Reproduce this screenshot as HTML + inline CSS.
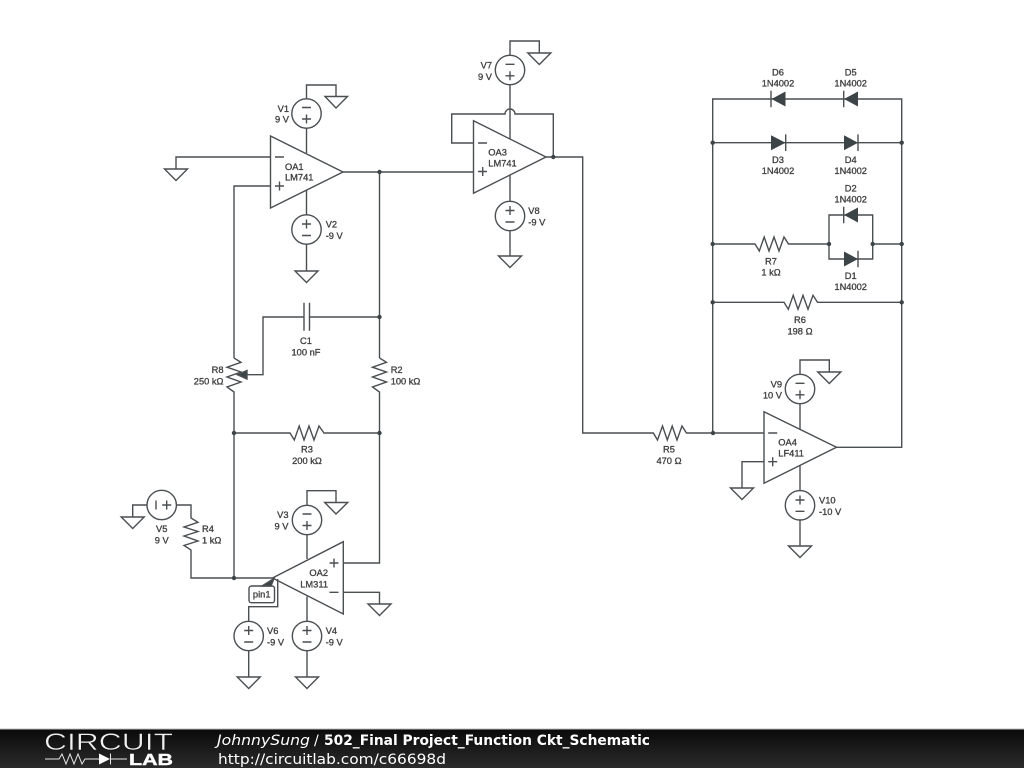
<!DOCTYPE html>
<html><head><meta charset="utf-8"><style>
html,body{margin:0;padding:0;background:#fff;width:1024px;height:768px;overflow:hidden}
svg{display:block}
.w{fill:none;stroke:#4a4f52;stroke-width:1.4}
.t text{font-family:"Liberation Sans",sans-serif;font-size:9.3px;fill:#404040;stroke:#404040;stroke-width:.32}
.m{text-anchor:middle}.e{text-anchor:end}
.f text{font-family:"DejaVu Sans",sans-serif;font-size:14px;fill:#fff}
</style></head><body>
<svg width="1024" height="768" viewBox="0 0 1024 768" xmlns="http://www.w3.org/2000/svg">
<defs><linearGradient id="g" x1="0" y1="0" x2="0" y2="1"><stop offset="0" stop-color="#0a0a0a"/><stop offset="1" stop-color="#2b2b2b"/></linearGradient></defs>
<rect width="1024" height="768" fill="#fff"/>
<g class="w">
<!-- OA1 -->
<path d="M270.5 136V208L343 172Z"/>
<path d="M275 157h9M275 186h9M279.500 181.500v9"/>
<circle cx="306.500" cy="113.500" r="14.700"/><path d="M302 107.500h9M302 119h9M306.500 114.500v9"/>
<circle cx="306.500" cy="229.500" r="14.700"/><path d="M302 224h9M306.500 219.500v9M302 235.500h9"/>
<path d="M306.500 99V85H336V96.500M325 96.500h22.500L336 108ZM306.500 128.200V153M306.500 190.500V214.800M306.500 244.200V271M295 271h23L306.500 282.500ZM270.500 157H176V169M164.500 169h23L176 180.500ZM270.500 186H234V358"/>
<path d="M343 172H474M379.500 172V358"/>
<!-- R8 R2 C1 R3 -->
<path d="M234 358L241 362.300L227 367.200L241 372L227 377L241 382L227 387L234 392V578"/>
<path d="M379.500 358L386.500 362.300L372.500 367.200L386.500 372L372.500 377L386.500 382L372.500 387L379.500 392V563H343.300"/>
<path d="M379.500 317H309.500M304 317H263V374.700H246M304 302.700V330.700M309.500 302.700V330.700"/>
<path d="M234 433H290L294.300 440L299.200 426L304 440L309 426L314 440L319 426L324 433H379.500"/>
<path d="M237.500 374.700L247 370.500V379Z" fill="#3c4448"/>
<!-- OA2 -->
<path d="M272.500 578L343.300 541.700V614Z"/>
<path d="M329.500 563h9M334 558.500v9M329.500 592.300h9"/>
<circle cx="307" cy="520" r="14.700"/><path d="M302.500 514h9M302.500 525.500h9M307 521v9"/>
<circle cx="307" cy="636" r="14.700"/><path d="M302.500 630.500h9M307 626v9M302.500 642h9"/>
<circle cx="248.700" cy="636" r="14.700"/><path d="M244.200 630.500h9M248.700 626v9M244.200 642h9"/>
<circle cx="161.700" cy="505" r="14.700"/><path d="M156 500.500v9M162.200 505h9M166.700 500.500v9"/>
<path d="M307 505.300V490.700H336V502.500M324.700 502.500h23L336 514ZM307 534.700V559M307 596.500V621.300M307 650.700V677M295.500 677h23L307 688.500Z"/>
<path d="M343.300 592.300H379.500V604M368 604h23L379.500 615.500Z"/>
<path d="M248.700 621.300V606.700H277.700V579M248.700 650.700V677M237.200 677h23L248.700 688.500Z"/>
<path d="M147 505H132.700V517M121.200 517h23L132.700 528.500ZM176.400 505H191V518L198 522.300L184 527L198 531.500L184 536L198 541L184 545.500L191 550V578H272.500"/>
<rect x="249" y="586" width="25.500" height="16.700" rx="2.500"/>
<path d="M262 586L274 578.500L271 586Z" fill="#3c4448"/>
<!-- OA3 -->
<path d="M473.500 120.700V193.300L546 157Z"/>
<path d="M478 143h9M478 171.500h9M482.700 167v9"/>
<circle cx="510" cy="70" r="14.700"/><path d="M505.500 64.300h9M505.500 75.800h9M510 71.300v9"/>
<circle cx="510" cy="216" r="14.700"/><path d="M505.500 210.500h9M510 206v9M505.500 222h9"/>
<path d="M510 55.300V41H539.300V53M527.800 53h23L539.300 64.500ZM510 84.700V139M510 175V201.300M510 230.700V256M498.500 256h23L510 267.500Z"/>
<path d="M473.500 143H451.700V114H505A5 5 0 0 1 515 114H553.300V157M546 157H582.700V433H653.300L657.500 440L662.500 426L667.300 440L672.200 426L677 440L682 426L686.500 433H764"/>
<!-- OA4 -->
<path d="M764 411.700V483.300L836.500 447.300Z"/>
<path d="M768.200 433h9M768.200 461.700h9M772.700 457.200v9"/>
<circle cx="800" cy="389" r="14.700"/><path d="M795.500 383.300h9M795.500 394.800h9M800 390.300v9"/>
<circle cx="800" cy="505.300" r="14.700"/><path d="M795.500 500h9M800 495.500v9M795.500 511.300h9"/>
<path d="M800 374.300V360H829.300V372M817.800 372h23L829.300 383.500ZM800 403.700V429M800 465.500V490.600M800 520V546M788.500 546h23L800 557.500ZM764 461.700H742V488M730.500 488h23L742 499.500ZM836.500 447.300H901.700V99H712.700V433"/>
<!-- diode branches -->
<path d="M712.700 142.700H901.700M771 90.700V107.300M843.700 90.700V107.300M785.700 134.400V151M858 134.400V151"/>
<path d="M712.700 244H755L759.300 251L764.200 237L769 251L774 237L779 251L784 237L788.500 244H829M829 215V259H872.700V215ZM872.700 244H901.700"/>
<path d="M843.700 206.700V223.300M858 250.700V267.300"/>
<path d="M712.700 302.300H784L788.300 309.300L793.200 295.300L798 309.300L803 295.300L808 309.300L813 295.300L817.500 302.300H901.700"/>
</g>
<g fill="#3c4448" stroke="none">
<path d="M771.500 99L785.500 91.500V106.500ZM844 99L858 91.500V106.500ZM771 135.200L785.500 142.700L771 150.200ZM844 135.200L858 142.700L844 150.200ZM844 215L858 207.500V222.500ZM844 251.500L858 259L844 266.500Z"/>
<circle cx="379.500" cy="172" r="2.200"/><circle cx="379.500" cy="317" r="2.200"/><circle cx="379.500" cy="433" r="2.200"/><circle cx="234" cy="433" r="2.200"/><circle cx="234" cy="578" r="2.200"/><circle cx="553.300" cy="157" r="2.200"/><circle cx="713" cy="433" r="2.200"/><circle cx="712.700" cy="142.700" r="2.200"/><circle cx="901.700" cy="142.700" r="2.200"/><circle cx="712.700" cy="244" r="2.200"/><circle cx="829" cy="244" r="2.200"/><circle cx="872.700" cy="244" r="2.200"/><circle cx="901.700" cy="244" r="2.200"/><circle cx="712.700" cy="302.300" r="2.200"/><circle cx="901.700" cy="302.300" r="2.200"/>
</g>
<g class="t">
<text x="285" y="170">OA1</text><text x="285" y="180.500">LM741</text>
<text x="289" y="112" class="e">V1</text><text x="289" y="122.500" class="e">9 V</text>
<text x="325.700" y="227.500">V2</text><text x="325.700" y="239">-9 V</text>
<text x="288.500" y="518" class="e">V3</text><text x="288.500" y="529.500" class="e">9 V</text>
<text x="325.700" y="634">V4</text><text x="325.700" y="645.500">-9 V</text>
<text x="161.700" y="532" class="m">V5</text><text x="161.700" y="543.500" class="m">9 V</text>
<text x="267" y="634">V6</text><text x="267" y="645.500">-9 V</text>
<text x="202" y="532">R4</text><text x="202" y="543.500">1 kΩ</text>
<text x="328" y="576" class="e">OA2</text><text x="328" y="587.500" class="e">LM311</text>
<text x="261.700" y="597.500" class="m">pin1</text>
<text x="306" y="344" class="m">C1</text><text x="306" y="355.500" class="m">100 nF</text>
<text x="223.500" y="373" class="e">R8</text><text x="223.500" y="384.500" class="e">250 kΩ</text>
<text x="390.700" y="373">R2</text><text x="390.700" y="384.500">100 kΩ</text>
<text x="307" y="452.500" class="m">R3</text><text x="307" y="464" class="m">200 kΩ</text>
<text x="488.300" y="155.500">OA3</text><text x="488.300" y="166.500">LM741</text>
<text x="492" y="68.500" class="e">V7</text><text x="492" y="80" class="e">9 V</text>
<text x="528.300" y="214">V8</text><text x="528.300" y="225.500">-9 V</text>
<text x="778" y="75.500" class="m">D6</text><text x="778" y="86.500" class="m">1N4002</text>
<text x="850.700" y="75.500" class="m">D5</text><text x="850.700" y="86.500" class="m">1N4002</text>
<text x="778" y="163" class="m">D3</text><text x="778" y="174" class="m">1N4002</text>
<text x="850.700" y="163" class="m">D4</text><text x="850.700" y="174" class="m">1N4002</text>
<text x="850.700" y="191.500" class="m">D2</text><text x="850.700" y="202.500" class="m">1N4002</text>
<text x="850.700" y="279" class="m">D1</text><text x="850.700" y="290" class="m">1N4002</text>
<text x="771" y="264.500" class="m">R7</text><text x="771" y="275.500" class="m">1 kΩ</text>
<text x="800" y="323" class="m">R6</text><text x="800" y="334.500" class="m">198 Ω</text>
<text x="669" y="452.500" class="m">R5</text><text x="669" y="464" class="m">470 Ω</text>
<text x="778.300" y="445.500">OA4</text><text x="778.300" y="456.500">LF411</text>
<text x="782" y="387.500" class="e">V9</text><text x="782" y="398.500" class="e">10 V</text>
<text x="819" y="503.500">V10</text><text x="819" y="515">-10 V</text>
</g>
<!-- footer -->
<rect x="0" y="729" width="1024" height="39" fill="url(#g)"/>
<rect x="0" y="728.500" width="1024" height="1" fill="#bdbdbd"/>
<g class="f">
<text x="217" y="745" font-style="italic" textLength="93" lengthAdjust="spacingAndGlyphs">JohnnySung</text>
<text x="314" y="745">/</text>
<text x="324" y="745" font-weight="bold" textLength="326" lengthAdjust="spacingAndGlyphs">502_Final Project_Function Ckt_Schematic</text>
<text x="218" y="764" textLength="228" lengthAdjust="spacingAndGlyphs">http://circuitlab.com/c66698d</text>
</g>
<text x="44" y="750" font-family="'Liberation Sans',sans-serif" font-size="24" fill="#f0f0f0" stroke="#111" stroke-width=".5" textLength="129" lengthAdjust="spacingAndGlyphs">CIRCUIT</text>
<text x="129" y="765" font-family="'Liberation Sans',sans-serif" font-size="15.500" font-weight="bold" fill="#fff" stroke="#fff" stroke-width=".4" textLength="44" lengthAdjust="spacingAndGlyphs">LAB</text>
<path d="M45 759H59L62 754L66 764L70 754L74 764L78 754L82 764L85 759H99M110 759H127M110.500 753.500V764.500" fill="none" stroke="#e8e8e8" stroke-width="1"/>
<path d="M99 753.500L110 759L99 764.500Z" fill="#fff"/>
</svg>
</body></html>
